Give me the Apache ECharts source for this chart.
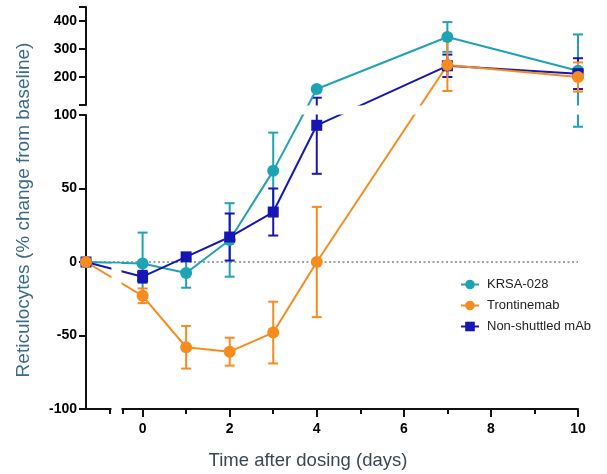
<!DOCTYPE html>
<html><head><meta charset="utf-8">
<script src="https://cdn.jsdelivr.net/npm/echarts@6/dist/echarts.min.js"></script>
<style>html,body{margin:0;padding:0;background:#fff}#c{width:607px;height:474px}</style>
</head><body><div id="c"></div>
<script>
// ---------------- data ----------------
const timePoints = ['baseline', 0, 1, 2, 3, 4, 7, 10];
const seriesNames = ['KRSA-028', 'Trontinemab', 'Non-shuttled mAb'];
const krsaMean = [0, -1, -7.5, 15, 62, 157, 343, 222];
const krsaSem  = [0, 21, 10, 25, 26, 8, 53, 130];
const tronMean = [0, -23, -58, -61, -48, 0, 243, 200];
const tronSem  = [0, 5, 14.5, 9.5, 21, 37.5, 93, 52];
const nsMean   = [0, -10, 3.5, 17, 34, 93, 240, 212];
const nsSem    = [0, 4, 2, 16, 16, 33, 40, 55];
const xTickLabels = [0, 2, 4, 6, 8, 10];
const xMinorTicks = [1, 3, 5, 7, 9];
const yLowTicks = [-100, -50, 0, 50, 100];
const yHighLabels = [200, 300, 400];

// ---------------- layout / broken-axis scale ----------------
const FONT = "'Liberation Sans', Arial, sans-serif";
const W = 607, H = 474;
const PLOT_L = 86, PLOT_R = 578;
const PLOT_T = 7, GAP_T = 105, GAP_B = 115, PLOT_B = 409;
const X_MIN = -1.3, X_MAX = 10;
const BASELINE_X = -1.3;
const XBREAK = [-0.75, -0.45];
const LOW_RANGE = [-100, 100], HIGH_RANGE = [100, 450];
const pxPerUnitLow = (PLOT_B - GAP_B) / (LOW_RANGE[1] - LOW_RANGE[0]);
const gapUnits = (GAP_B - GAP_T) / pxPerUnitLow;
const highScale = ((GAP_T - PLOT_T) / (HIGH_RANGE[1] - HIGH_RANGE[0])) / pxPerUnitLow;
function brokenY(v) {
  return v <= LOW_RANGE[1] ? v : LOW_RANGE[1] + gapUnits + (v - HIGH_RANGE[0]) * highScale;
}
const DISP_MAX = brokenY(HIGH_RANGE[1]);
function xPos(t) { return t === 'baseline' ? BASELINE_X : t; }

const colors = { 'KRSA-028': '#1fa2b3', 'Trontinemab': '#f68b1f', 'Non-shuttled mAb': '#1616b4' };

function lineSeries(name, mean, symbol, size) {
  return {
    type: 'line', name, xAxisIndex: 0, yAxisIndex: 0, z: 2,
    data: timePoints.map((t, i) => [xPos(t), brokenY(mean[i])]),
    symbol, symbolSize: size, showSymbol: true,
    itemStyle: { color: colors[name] },
    lineStyle: { color: colors[name], width: 2 },
    animation: false, silent: true
  };
}
function errorSeries(name, mean, sem) {
  const color = colors[name];
  const data = [];
  timePoints.forEach((t, i) => {
    if (sem[i] > 0) data.push([xPos(t), brokenY(mean[i] - sem[i]), brokenY(mean[i] + sem[i])]);
  });
  return {
    type: 'custom', name: name + ' SEM', xAxisIndex: 0, yAxisIndex: 0, z: 1, silent: true,
    animation: false,
    encode: { x: 0, y: [1, 2] },
    data,
    renderItem(params, api) {
      const x = api.value(0);
      const lo = api.coord([x, api.value(1)]);
      const hi = api.coord([x, api.value(2)]);
      const hw = 5;
      const style = { stroke: color, lineWidth: 2 };
      return { type: 'group', children: [
        { type: 'line', shape: { x1: lo[0], y1: lo[1], x2: hi[0], y2: hi[1] }, style },
        { type: 'line', shape: { x1: lo[0] - hw, y1: lo[1], x2: lo[0] + hw, y2: lo[1] }, style },
        { type: 'line', shape: { x1: hi[0] - hw, y1: hi[1], x2: hi[0] + hw, y2: hi[1] }, style }
      ]};
    }
  };
}

const axisLine = { show: true, onZero: false, lineStyle: { color: '#111', width: 2 } };
const tickLabel = { color: '#000', fontSize: 14, fontWeight: 'bold', fontFamily: FONT };

const chart = echarts.init(document.getElementById('c'), null, { renderer: 'canvas' });
const krsaLine = lineSeries('KRSA-028', krsaMean, 'circle', 12);
krsaLine.markLine = {
  silent: true, symbol: ['none', 'none'], z: 1, animation: false,
  label: { show: false },
  lineStyle: { type: [2, 2.5], color: '#7f8590', width: 1.5 },
  data: [{ yAxis: 0 }]
};

chart.setOption({
  animation: false,
  backgroundColor: '#fff',
  textStyle: { fontFamily: FONT },
  grid: [
    { left: PLOT_L, right: W - PLOT_R, top: PLOT_T, bottom: H - PLOT_B, outerBoundsMode: 'none' },
    { left: PLOT_L, right: W - PLOT_R, top: GAP_B, bottom: H - PLOT_B, outerBoundsMode: 'none' },
    { left: PLOT_L, right: W - PLOT_R, top: PLOT_T, bottom: H - GAP_T, outerBoundsMode: 'none' }
  ],
  xAxis: [
    { type: 'value', gridIndex: 0, min: X_MIN, max: X_MAX, position: 'bottom',
      axisLine, splitLine: { show: false },
      axisTick: { show: true, customValues: xTickLabels, length: 8, lineStyle: { color: '#111', width: 2 } },
      axisLabel: Object.assign({ customValues: xTickLabels, margin: 13 }, tickLabel) },
    { type: 'value', gridIndex: 0, min: X_MIN, max: X_MAX, position: 'bottom',
      axisLine: { show: false, onZero: false }, splitLine: { show: false },
      axisTick: { show: true, customValues: XBREAK.concat(xMinorTicks), length: 5, lineStyle: { color: '#111', width: 2 } },
      axisLabel: { show: false } },
    { type: 'value', gridIndex: 1, min: 0, max: 1, show: false },
    { type: 'value', gridIndex: 2, min: 0, max: 1, show: false }
  ],
  yAxis: [
    { type: 'value', gridIndex: 0, min: LOW_RANGE[0], max: DISP_MAX, show: false },
    { type: 'value', gridIndex: 1, min: LOW_RANGE[0], max: LOW_RANGE[1], interval: 50,
      axisLine: { show: true, onZero: false, lineStyle: { color: '#111', width: 2 } }, splitLine: { show: false },
      axisTick: { show: true, customValues: yLowTicks, length: 7, lineStyle: { color: '#111', width: 2 } },
      axisLabel: Object.assign({ customValues: yLowTicks, margin: 9 }, tickLabel) },
    { type: 'value', gridIndex: 2, min: HIGH_RANGE[0], max: HIGH_RANGE[1],
      axisLine: { show: true, onZero: false, lineStyle: { color: '#111', width: 2 } }, splitLine: { show: false },
      axisTick: { show: true, customValues: [HIGH_RANGE[0]].concat(yHighLabels, [HIGH_RANGE[1]]), length: 7, lineStyle: { color: '#111', width: 2 } },
      axisLabel: Object.assign({ customValues: yHighLabels, margin: 9 }, tickLabel) }
  ],
  legend: {
    data: seriesNames, orient: 'vertical', left: 455, top: 273,
    itemWidth: 18, itemHeight: 12, itemGap: 8,
    textStyle: { fontSize: 13, color: '#222', fontFamily: FONT, padding: [0, 0, 0, 3] },
    selectedMode: false
  },
  series: [
    errorSeries('KRSA-028', krsaMean, krsaSem),
    errorSeries('Non-shuttled mAb', nsMean, nsSem),
    errorSeries('Trontinemab', tronMean, tronSem),
    krsaLine,
    lineSeries('Non-shuttled mAb', nsMean, 'rect', 11),
    lineSeries('Trontinemab', tronMean, 'circle', 12)
  ]
});

// white bands hiding the data inside the axis breaks
const toPx = (x, y) => chart.convertToPixel({ xAxisIndex: 0, yAxisIndex: 0 }, [x, y]);
const xa = toPx(XBREAK[0], 0)[0] + 1.5;
const xb = toPx(XBREAK[1], 0)[0] - 1.5;
const yTop = toPx(0, DISP_MAX)[1];
const yBot = toPx(0, LOW_RANGE[0])[1] + 2;
const y0 = toPx(0, 0)[1];
const gTop = toPx(0, LOW_RANGE[1] + gapUnits)[1];
const gBot = toPx(0, LOW_RANGE[1])[1];
const band = (x, y, w, h) => ({ type: 'rect', z: 100, silent: true, shape: { x, y, width: w, height: h }, style: { fill: '#fff' } });
chart.setOption({
  graphic: [
    band(xa, yTop - 2, xb - xa, (y0 - 1.5) - (yTop - 2)),
    band(xa, y0 + 1.5, xb - xa, yBot - (y0 + 1.5)),
    band(PLOT_L + 1, gTop + 0.5, PLOT_R - PLOT_L + 12, gBot - gTop - 1),
    { type: 'text', z: 101, x: 24, y: 210, rotation: Math.PI / 2, silent: true,
      style: { text: 'Reticulocytes (% change from baseline)', fontSize: 19, fontFamily: FONT,
               fill: '#3b6b88', align: 'center', verticalAlign: 'middle' } },
    { type: 'text', z: 101, x: 308, y: 461, silent: true,
      style: { text: 'Time after dosing (days)', fontSize: 18.5, fontFamily: FONT,
               fill: '#3a4654', align: 'center', verticalAlign: 'middle' } }
  ]
});
</script>
</body></html>
